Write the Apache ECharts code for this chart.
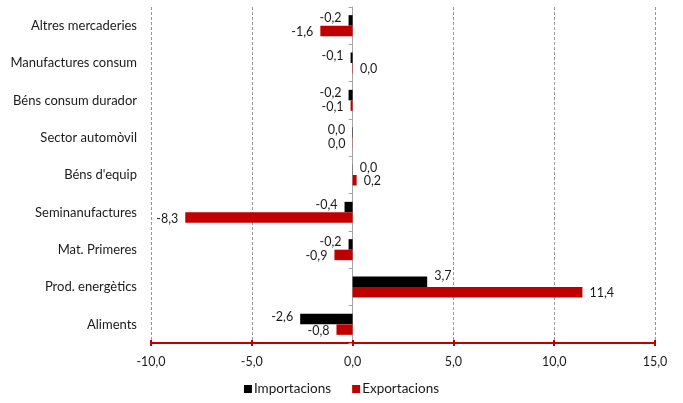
<!DOCTYPE html>
<html>
<head>
<meta charset="utf-8">
<script src="https://cdn.jsdelivr.net/npm/echarts@6/dist/echarts.min.js"></script>
<style>
html,body{margin:0;padding:0;background:#fff;}
#c{width:683px;height:403px;}
</style>
</head>
<body>
<div id="c"></div>
<script>
const categories = ["Aliments","Prod. energètics","Mat. Primeres","Seminanufactures","Béns d'equip","Sector automòvil","Béns consum durador","Manufactures consum","Altres mercaderies"];
const importacions = [-2.6, 3.7, -0.2, -0.4, 0.01, -0.02, -0.2, -0.1, -0.2];
const exportacions = [-0.8, 11.4, -0.9, -8.3, 0.2, -0.01, -0.1, 0.02, -1.6];
const xTicks = {min: -10, max: 15, interval: 5};

const FONT = 'Lato';
function fmt(v){
  const r = Math.round(v*10)/10;
  const s = (Math.abs(r) < 0.05 ? 0 : r).toFixed(1);
  return s.replace('.', ',');
}
function items(arr, dy){
  return arr.map(v => ({
    value: v,
    label: {position: v < 0 ? 'left' : 'right', offset: [0, v > 1 && dy < 0 ? -6 : dy]}
  }));
}
const chart = echarts.init(document.getElementById('c'));
const labelStyle = {show: true, distance: 7, fontFamily: FONT, fontSize: 12.5, color: '#1a1a1a',
  formatter: p => fmt(p.value)};
chart.setOption({
  animation: false,
  textStyle: {fontFamily: FONT},
  grid: {left: 151, right: 28, top: 7, bottom: 60, containLabel: false},
  legend: {
    data: ['Importacions','Exportacions'],
    bottom: 2, left: 'center',
    icon: 'rect', itemWidth: 8, itemHeight: 8, itemGap: 21,
    textStyle: {fontFamily: FONT, fontSize: 13.5, color: '#1a1a1a', padding: [0,0,0,-3]}
  },
  xAxis: [{
    type: 'value', min: xTicks.min, max: xTicks.max, interval: xTicks.interval,
    axisLine: {show: true, onZero: false, lineStyle: {color: '#C00000', width: 2}},
    axisTick: {show: true, length: 3, lineStyle: {color: '#C00000', width: 2}},
    axisLabel: {fontFamily: FONT, fontSize: 12.5, color: '#1a1a1a', margin: 12,
      formatter: v => v.toFixed(1).replace('.', ',')},
    splitLine: {show: true, lineStyle: {color: '#9a9a9a', type: [3,2], width: 1}}
  },{
    type: 'value', min: xTicks.min, max: xTicks.max, interval: xTicks.interval, position: 'bottom',
    axisLine: {show: false},
    axisTick: {show: true, inside: true, length: 3, lineStyle: {color: '#C00000', width: 2}},
    axisLabel: {show: false}, splitLine: {show: false}
  }],
  yAxis: [{
    type: 'category', data: categories, position: 'left',
    axisLine: {show: false, onZero: false},
    axisTick: {show: false},
    axisLabel: {fontFamily: FONT, fontSize: 13, color: '#1a1a1a', margin: 14}
  },{
    type: 'category', data: categories, position: 'left',
    axisLine: {show: true, onZero: true, lineStyle: {color: '#a6a6a6', width: 1}},
    axisTick: {show: true, length: 4, lineStyle: {color: '#a6a6a6'}},
    axisLabel: {show: false}
  }],
  series: [{
    name: 'Importacions', type: 'bar', yAxisIndex: 0,
    data: items(importacions, -2),
    itemStyle: {color: '#000000'},
    barWidth: 10.5, barGap: '0%',
    label: labelStyle
  },{
    name: 'Exportacions', type: 'bar', yAxisIndex: 0,
    data: items(exportacions, 1),
    itemStyle: {color: '#C00000'},
    barWidth: 10.5, barGap: '0%',
    label: labelStyle
  }]
});
</script>
</body>
</html>
